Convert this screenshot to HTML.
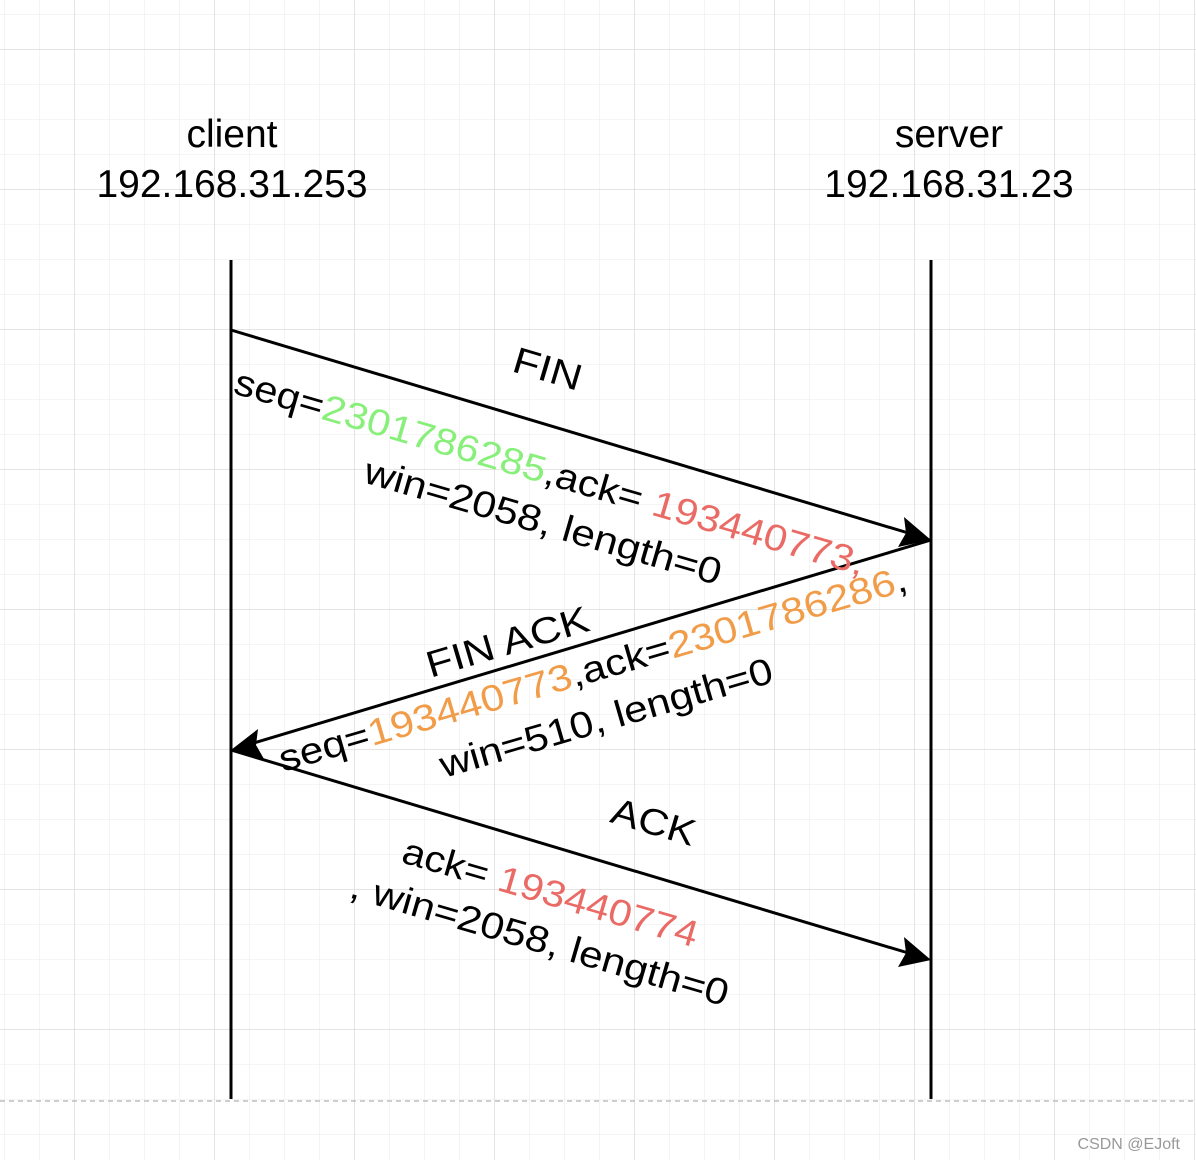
<!DOCTYPE html>
<html><head><meta charset="utf-8"><style>
html,body{margin:0;padding:0;background:#fff;}
svg{display:block;}
text{font-family:"Liberation Sans",Arial,sans-serif;}
</style></head><body>
<svg width="1196" height="1160" viewBox="0 0 1196 1160" xmlns="http://www.w3.org/2000/svg">
<defs>
<pattern id="minor" x="4" y="14" width="35" height="35" patternUnits="userSpaceOnUse">
<path d="M0 0H35M0 0V35" stroke="#efefef" stroke-width="1.3" fill="none"/>
</pattern>
<pattern id="major" x="74" y="49" width="140" height="140" patternUnits="userSpaceOnUse">
<path d="M0 0H140M0 0V140" stroke="#d6d6d6" stroke-width="1.2" fill="none"/>
</pattern>
</defs>
<rect width="1196" height="1160" fill="#fff"/>
<rect width="1196" height="1160" fill="url(#minor)"/>
<rect width="1196" height="1160" fill="url(#major)"/>
<line x1="0" y1="1101" x2="1196" y2="1101" stroke="#bdbdbd" stroke-width="1.5" stroke-dasharray="5,4"/>

<text x="232" y="147" font-size="39" text-anchor="middle">client</text>
<text x="232" y="197" font-size="39" text-anchor="middle">192.168.31.253</text>
<text x="949" y="147" font-size="39" text-anchor="middle">server</text>
<text x="949" y="197" font-size="39" text-anchor="middle">192.168.31.23</text>

<line x1="231" y1="260" x2="231" y2="1099" stroke="#000" stroke-width="3"/>
<line x1="931" y1="260" x2="931" y2="1099" stroke="#000" stroke-width="3"/>

<!-- FIN -->
<line x1="231" y1="330" x2="915" y2="535" stroke="#000" stroke-width="3"/>
<polygon points="931,540 898,547 906,533 904,517" fill="#000"/>
<!-- FIN ACK -->
<line x1="931" y1="540" x2="247" y2="745" stroke="#000" stroke-width="3"/>
<polygon points="231,750 258,729 256,745 264,759" fill="#000"/>
<!-- ACK -->
<line x1="231" y1="750" x2="915" y2="955" stroke="#000" stroke-width="3"/>
<polygon points="931,960 898,967 906,953 904,937" fill="#000"/>

<g font-size="37">
<text transform="translate(544,381) rotate(16.5)" text-anchor="middle" textLength="70" lengthAdjust="spacingAndGlyphs">FIN</text>
<text transform="translate(232,393) rotate(16.2)" textLength="655" lengthAdjust="spacingAndGlyphs">seq=<tspan fill="#88f07a">2301786285</tspan>,ack= <tspan fill="#ea6b66">193440773,</tspan></text>
<text transform="translate(362,482) rotate(16.2)" textLength="370" lengthAdjust="spacingAndGlyphs">win=2058, length=0</text>

<text transform="translate(511,654) rotate(-16.5)" text-anchor="middle" textLength="168" lengthAdjust="spacingAndGlyphs">FIN ACK</text>
<text transform="translate(283,772) rotate(-16.2)" textLength="652" lengthAdjust="spacingAndGlyphs">seq=<tspan fill="#f19c48">193440773</tspan>,ack=<tspan fill="#f19c48">2301786286</tspan>,</text>
<text transform="translate(444,778) rotate(-16.2)" textLength="345" lengthAdjust="spacingAndGlyphs">win=510, length=0</text>

<text transform="translate(650,834) rotate(16.5)" text-anchor="middle" textLength="86" lengthAdjust="spacingAndGlyphs">ACK</text>
<text transform="translate(400,862) rotate(16.2)" textLength="306" lengthAdjust="spacingAndGlyphs">ack= <tspan fill="#ea6b66">193440774</tspan></text>
<text transform="translate(348,897) rotate(16.2)" textLength="392" lengthAdjust="spacingAndGlyphs">, win=2058, length=0</text>
</g>

<text x="1180" y="1149" font-size="16" fill="#999" text-anchor="end">CSDN @EJoft</text>
</svg>
</body></html>
